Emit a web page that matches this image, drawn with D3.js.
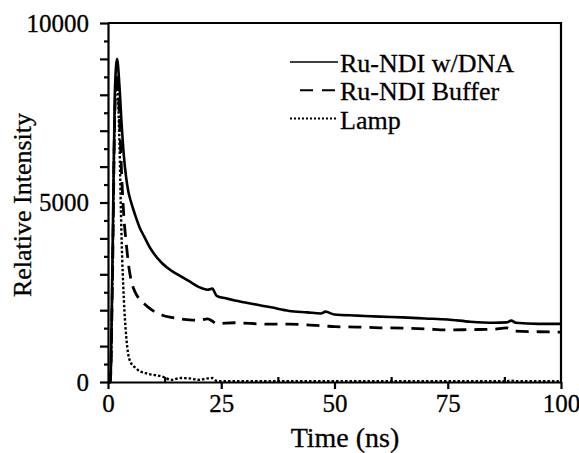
<!DOCTYPE html>
<html>
<head>
<meta charset="utf-8">
<script src="https://cdn.jsdelivr.net/npm/d3@7"></script>
<style>
  body { margin: 0; background: #fff; }
  svg { display: block; }
  .axis path, .axis line { stroke: #000; stroke-width: 2.2; }
</style>
</head>
<body>
<div class="chart"></div>
<script>
// time (ns) shared by all three traces
const time = [0, 0.5, 1, 1.5, 2, 2.5, 3, 3.5, 4, 4.5, 5, 6, 7, 8, 9, 10, 12, 14, 16, 18,
  20, 22, 23, 24, 26, 28, 30, 33, 36, 40, 44, 47, 48, 50, 55, 60, 65, 70, 75, 80,
  85, 88, 89, 90, 95, 100];

const withDNA = [0, 0, 3500, 8000, 9000, 8300, 7200, 6300, 5700, 5300, 5050, 4650, 4300, 4050, 3800, 3600, 3300, 3100, 2950, 2800,
  2650, 2570, 2600, 2400, 2330, 2270, 2220, 2150, 2080, 1980, 1940, 1910, 1960, 1880, 1850, 1820, 1800, 1770, 1740, 1680,
  1650, 1660, 1710, 1650, 1620, 1620];

const buffer = [0, 0, 3000, 7500, 8600, 7500, 5800, 4600, 3900, 3300, 2900, 2500, 2300, 2180, 2070, 1980, 1860, 1800, 1760, 1730,
  1720, 1760, 1700, 1620, 1640, 1650, 1640, 1620, 1610, 1610, 1590, 1570, 1560, 1540, 1530, 1510, 1500, 1480, 1450, 1460,
  1470, 1510, 1470, 1420, 1400, 1390];

const lamp = [0, 0, 3000, 7500, 8500, 6800, 4000, 2300, 1300, 750, 550, 400, 300, 260, 220, 200, 150, 60, 110, 100,
  60, 100, 110, 30, 20, 20, 25, 20, 20, 20, 25, 20, 20, 20, 25, 20, 20, 25, 20, 20,
  20, 25, 40, 20, 20, 20];

const seriesNames = ["Ru-NDI w/DNA", "Ru-NDI Buffer", "Lamp"];
const xTicks = [0, 25, 50, 75, 100];
const yLabels = [0, 5000, 10000];

const FONT = "'Liberation Serif', 'Times New Roman', serif";

const W = 579, H = 453;
const margin = { top: 23, right: 18, bottom: 71, left: 108 };
const width = W - margin.left - margin.right;
const height = H - margin.top - margin.bottom;

const svg = d3.select(".chart").append("svg")
  .attr("width", W).attr("height", H);
const g = svg.append("g")
  .attr("transform", "translate(" + margin.left + "," + margin.top + ")");

const x = d3.scaleLinear().domain([0, 100]).range([0, width]);
const y = d3.scaleLinear().domain([0, 10000]).range([height, 0]);

// y axis: minor every 500, major every 1000
g.append("g").attr("class", "axis")
  .call(d3.axisLeft(y).tickValues(d3.range(500, 10000, 1000)).tickSize(4).tickFormat(""))
  .call(a => a.select(".domain").remove());
g.append("g").attr("class", "axis")
  .call(d3.axisLeft(y).tickValues(d3.range(0, 10001, 1000)).tickSize(8).tickSizeOuter(0).tickPadding(11)
    .tickFormat(d => yLabels.includes(d) ? d : ""));

// x axis: major outward, minor inward
g.append("g").attr("class", "axis")
  .attr("transform", "translate(0," + height + ")")
  .call(d3.axisBottom(x).tickValues([12.5, 37.5, 62.5, 87.5]).tickSize(-5).tickFormat(""))
  .call(a => a.select(".domain").remove());
g.append("g").attr("class", "axis")
  .attr("transform", "translate(0," + height + ")")
  .call(d3.axisBottom(x).tickValues(xTicks).tickSize(7).tickSizeOuter(0).tickPadding(5));

// frame top/right
g.append("path")
  .attr("d", "M0,0H" + width + "V" + height)
  .attr("fill", "none").attr("stroke", "#000").attr("stroke-width", 2.2);

const styles = [
  { dash: null, w: 2.6 },
  { dash: "13,8", w: 2.8 },
  { dash: "2.5,2", w: 2.4 }
];
const values = [withDNA, buffer, lamp];

const line = d3.line()
  .x((d, i) => x(time[i]))
  .y(d => y(d))
  .curve(d3.curveMonotoneX);

values.forEach((vals, k) => {
  g.append("path")
    .datum(vals)
    .attr("fill", "none")
    .attr("stroke", "#000")
    .attr("stroke-width", styles[k].w)
    .attr("stroke-dasharray", styles[k].dash)
    .attr("d", line);
});

// legend
const legend = g.append("g").attr("transform", "translate(182,39)");
seriesNames.forEach((name, k) => {
  const row = legend.append("g").attr("transform", "translate(0," + k * 28.3 + ")");
  row.append("line")
    .attr("x1", k === 1 ? 10 : 0).attr("x2", 48)
    .attr("y1", 0).attr("y2", 0)
    .attr("stroke", "#000")
    .attr("stroke-width", k === 0 ? 1.6 : 2)
    .attr("stroke-dasharray", k === 1 ? "13,9" : (k === 2 ? "2,2" : null));
  row.append("text")
    .attr("x", 50).attr("y", 10)
    .style("font-size", "26px")
    .text(name);
});

// axis titles
svg.append("text")
  .attr("x", 345).attr("y", 447)
  .attr("text-anchor", "middle")
  .style("font-size", "28px")
  .text("Time (ns)");

svg.append("text")
  .attr("transform", "translate(31,205) rotate(-90)")
  .attr("text-anchor", "middle")
  .style("font-size", "26px")
  .text("Relative Intensity");

// one font for every label, axis ticks included
svg.selectAll("text")
  .style("font-family", FONT)
  .style("fill", "#000")
  .style("stroke", "#000")
  .style("stroke-width", "0.3px");
svg.selectAll(".axis text").style("font-size", "25px");
</script>
</body>
</html>
